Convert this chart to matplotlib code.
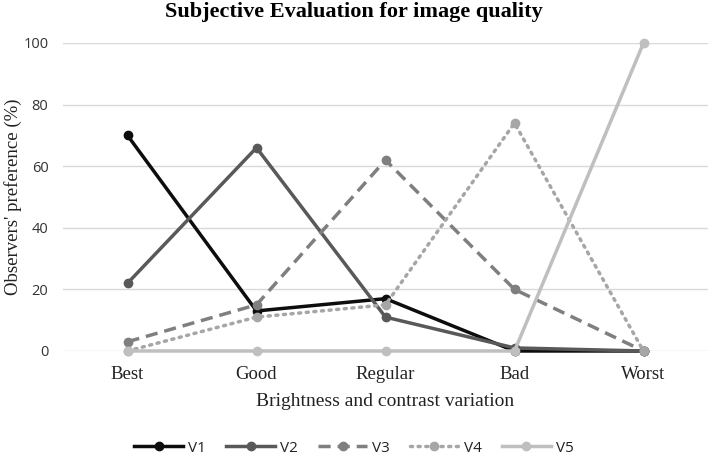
import matplotlib
matplotlib.use("Agg")
import matplotlib.pyplot as plt

categories = ["Best", "Good", "Regular", "Bad", "Worst"]
series_names = ["V1", "V2", "V3", "V4", "V5"]
v1 = [70, 13, 17, 0, 0]
v2 = [22, 66, 11, 1, 0]
v3 = [3, 15, 62, 20, 0]
v4 = [0, 11, 15, 74, 0]
v5 = [0, 0, 0, 0, 100]
y_ticks = [0, 20, 40, 60, 80, 100]

colors = ["#0d0d0d", "#595959", "#7f7f7f", "#a6a6a6", "#bfbfbf"]
styles = ["-", "-", (0, (3.5, 2)), (0, (0.6, 1.6)), "-"]

fig = plt.figure(figsize=(7.08, 4.55), dpi=100)
ax = fig.add_axes([63/708, 1-351/455, 1-63/708, (351-43)/455])

x = list(range(len(categories)))
data = [v1, v2, v3, v4, v5]
for name, vals, c, ls in zip(series_names, data, colors, styles):
    ax.plot(x, vals, color=c, linestyle=ls, linewidth=2.5, marker="o",
            markersize=6, label=name, clip_on=False, zorder=3,
            dash_capstyle="butt" if ls != styles[3] else "round")

ax.set_xlim(-0.5, len(categories) - 0.5)
ax.set_ylim(0, 100)
ax.set_yticks(y_ticks)
ax.set_yticklabels([str(t) for t in y_ticks], fontfamily="Open Sans", fontsize=10.5, color="#333333")
ax.set_xticks(x)
ax.set_xticklabels(categories, fontfamily="Liberation Serif", fontsize=13.5, color="#222222")
ax.tick_params(axis="both", length=0)
ax.tick_params(axis="y", pad=10.5)
ax.tick_params(axis="x", pad=11)
ax.grid(axis="y", color="#d9d9d9", linewidth=1)
ax.set_axisbelow(True)
for s in ax.spines.values():
    s.set_visible(False)

ax.set_xlabel("Brightness and contrast variation", fontfamily="Liberation Serif", fontsize=14, color="#222222")
ax.xaxis.set_label_coords(0.5, -(402-351)/308, transform=ax.transAxes)
ax.set_ylabel("Observers' preference (%)", fontfamily="Liberation Serif", fontsize=13.5, color="#222222")
ax.yaxis.set_label_coords(-(63-13)/645, 0.5, transform=ax.transAxes)
ax.xaxis.label.set_va("center")
ax.yaxis.label.set_va("center")
fig.text(0.5, 1-12/455, "Subjective Evaluation for image quality", ha="center", va="center",
         fontfamily="Liberation Serif", fontweight="bold", fontsize=16)

leg = fig.legend(loc="center", bbox_to_anchor=(0.5, 1-448/455), ncol=5, frameon=False,
                 prop={"family": "Open Sans", "size": 11}, handlelength=3.2,
                 columnspacing=1.3, handletextpad=0.35, labelcolor="#222222")

fig.savefig("out.png", dpi=100)
